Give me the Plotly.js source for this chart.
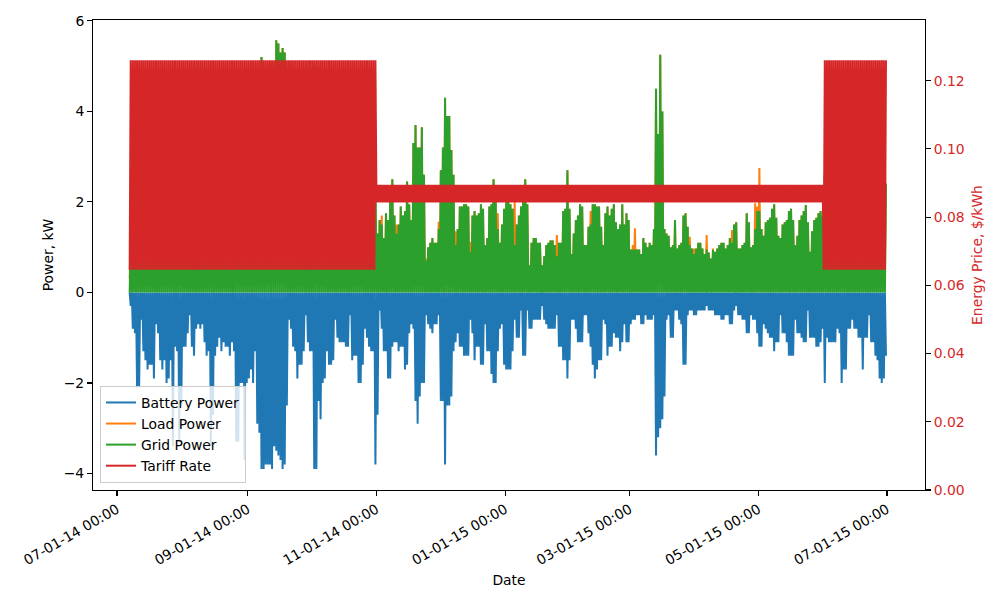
<!DOCTYPE html>
<html><head><meta charset="utf-8">
<script src="https://cdn.plot.ly/plotly-3.0.1.min.js"></script>
<style>html,body{margin:0;padding:0;background:#fff}#chart{width:1000px;height:600px}</style>
</head><body><div id="chart"></div>
<script>
// Daily values, one per day from 2014-07-07 to 2015-06-30
const firstDayOffset = 6; // days after 2014-07-01
const batteryMin = [
-0.3,-0.8,-0.9,-2.1,-2.1,-0.6,-1.3,-1.5,-1.7,-1.6,
-1.6,-1.9,-0.7,-0.9,-1.5,-1.7,-1.5,-2.0,-1.9,-1.5,
-3.4,-1.2,-1.3,-3.3,-2.5,-1.2,-1.2,-0.9,-0.5,-1.2,
-1.4,-0.8,-0.7,-0.8,-0.7,-1.1,-1.4,-1.3,-3.4,-2.7,
-1.4,-1.2,-1.0,-1.3,-1.1,-1.2,-1.2,-1.4,-1.1,-1.3,
-3.3,-3.3,-2.0,-2.0,-3.7,-2.0,-1.9,-1.7,-2.0,-1.3,
-2.9,-3.1,-3.9,-3.9,-3.8,-3.8,-3.8,-3.9,-3.4,-3.5,
-3.6,-3.7,-3.9,-3.8,-2.5,-0.6,-0.8,-1.2,-1.3,-1.9,
-1.6,-1.6,-1.3,-0.5,-1.1,-1.3,-1.3,-3.9,-3.9,-2.4,
-2.8,-2.0,-1.9,-1.3,-1.6,-1.6,-1.5,-0.6,-1.0,-1.1,
-1.1,-1.1,-1.2,-1.2,-0.5,-1.5,-1.4,-1.4,-2.0,-2.0,
-1.6,-0.8,-1.0,-1.2,-1.3,-1.3,-3.8,-2.7,-0.4,-0.8,
-1.3,-1.3,-1.9,-1.9,-1.2,-1.1,-1.1,-1.3,-1.2,-1.2,
-1.7,-1.6,-0.9,-0.7,-0.8,-2.4,-2.9,-2.3,-2.0,-2.0,
-0.5,-0.7,-0.8,-0.9,-0.7,-0.7,-0.5,-2.4,-2.4,-3.8,
-2.5,-2.5,-2.3,-1.3,-1.1,-0.9,-1.2,-1.2,-1.4,-1.4,
-1.4,-0.6,-0.9,-1.5,-1.2,-1.2,-1.6,-1.6,-0.7,-1.3,
-1.3,-1.8,-2.0,-2.0,-1.3,-0.8,-0.7,-1.6,-1.7,-1.7,
-1.7,-1.3,-0.6,-1.0,-1.0,-0.4,-1.4,-1.4,-0.4,-0.8,
-0.8,-0.6,-0.6,-0.6,-0.6,-0.3,-0.6,-0.7,-0.8,-0.8,
-0.8,-0.8,-0.5,-1.2,-1.2,-1.5,-1.5,-1.9,-1.5,-0.6,
-0.6,-0.8,-1.1,-1.1,-1.1,-0.5,-0.5,-0.9,-1.2,-1.6,
-1.9,-1.7,-1.5,-1.5,-0.6,-0.7,-1.4,-1.2,-1.2,-0.9,
-1.0,-1.0,-1.3,-1.1,-0.7,-1.1,-1.1,-0.7,-0.6,-0.6,
-0.5,-0.5,-0.7,-0.7,-0.5,-0.6,-0.6,-0.6,-0.5,-3.6,
-3.2,-3.0,-2.8,-2.3,-0.6,-0.5,-1.0,-1.0,-0.4,-0.4,
-0.6,-0.7,-1.6,-1.6,-0.5,-0.4,-0.4,-0.5,-0.5,-0.4,
-0.4,-0.4,-0.4,-0.3,-0.4,-0.4,-0.4,-0.5,-0.5,-0.5,
-0.6,-0.6,-0.5,-0.5,-0.7,-0.7,-0.4,-0.3,-0.5,-0.5,
-0.6,-0.6,-0.9,-0.9,-0.5,-0.6,-0.6,-0.9,-1.2,-1.2,
-0.7,-0.8,-0.9,-1.0,-1.0,-1.3,-1.1,-1.1,-0.5,-0.9,
-0.9,-1.1,-1.4,-1.4,-1.4,-0.6,-0.9,-0.9,-1.0,-1.1,
-1.1,-0.4,-1.0,-1.0,-1.0,-1.2,-1.2,-1.1,-0.8,-2.0,
-1.0,-1.1,-1.1,-1.1,-1.1,-0.8,-0.9,-2.0,-1.7,-1.7,
-0.8,-0.8,-0.6,-0.8,-0.8,-1.0,-1.0,-1.7,-1.0,-1.0,
-0.5,-1.1,-1.1,-1.4,-1.5,-1.9,-2.0,-1.9,-1.4
];
const gridMax = [
1.2,2.5,2.8,3.5,3.2,2.0,2.8,3.0,3.2,3.0,
3.1,3.4,2.2,2.4,3.0,3.2,3.0,3.6,3.5,3.0,
4.6,2.8,2.9,4.5,4.0,2.7,2.7,2.3,1.9,2.8,
3.0,2.2,2.1,2.2,2.1,2.6,2.9,2.8,4.6,4.1,
2.9,2.7,2.5,2.8,2.6,2.7,2.7,2.9,2.6,2.8,
4.5,4.5,3.5,3.5,4.8,3.5,3.4,3.2,3.5,2.8,
4.3,4.5,5.2,3.5,4.9,4.9,4.9,5.0,4.8,5.57,
5.5,5.3,5.4,5.3,3.9,2.0,2.2,2.7,2.8,3.4,
3.1,3.1,2.8,1.9,2.6,2.8,2.8,5.0,5.0,3.9,
4.2,3.5,3.4,2.8,3.1,3.1,3.0,2.0,2.5,2.6,
2.6,2.6,2.7,2.7,1.9,3.0,2.9,2.9,3.5,3.5,
3.1,2.3,2.5,2.7,2.8,2.0,2.5,1.3,1.6,1.5,
1.2,1.75,1.6,2.0,2.5,1.7,1.3,1.5,1.9,1.7,
1.8,2.45,1.95,1.6,3.3,3.7,3.2,3.2,3.65,2.6,
0.7,1.0,1.1,1.2,1.1,1.1,1.4,2.7,3.2,4.3,
3.9,3.9,3.15,2.6,1.05,1.4,1.9,1.9,1.95,1.95,
1.9,0.9,1.7,1.8,1.7,1.75,1.95,1.85,1.05,1.2,
1.9,1.95,2.5,2.0,1.4,1.1,1.5,1.85,2.0,2.0,
1.95,1.85,1.05,1.5,1.7,1.9,2.0,2.5,1.95,0.6,
1.1,1.2,1.2,1.1,1.1,0.6,0.8,1.05,1.1,1.15,
1.15,1.05,0.8,1.1,1.1,1.8,1.85,2.7,1.85,0.85,
1.3,1.6,1.7,1.95,1.9,1.05,1.05,1.45,1.5,1.95,
1.95,1.9,1.9,1.45,1.05,1.75,1.9,1.7,1.85,1.95,
1.55,1.4,1.5,1.95,1.5,1.75,1.6,0.95,0.95,0.95,
0.95,0.95,0.85,1.2,1.1,1.0,1.1,1.05,1.4,4.5,
3.5,5.25,4.0,1.4,1.3,1.25,1.0,1.05,1.6,0.97,
1.05,1.1,1.7,1.75,1.45,1.05,0.97,0.85,0.97,1.1,
1.1,0.97,0.85,0.95,0.88,0.75,0.94,0.9,0.97,1.05,
1.1,1.1,0.97,1.05,1.2,1.1,1.5,1.55,0.97,0.97,
1.05,1.1,1.75,1.55,1.0,1.05,1.4,1.8,1.8,1.4,
1.25,1.55,1.6,1.65,1.85,1.95,1.65,1.25,1.2,1.5,
1.55,1.6,1.8,1.85,1.6,1.05,1.25,1.6,1.7,1.8,
1.93,1.55,0.9,1.35,1.6,1.65,1.75,1.8,1.7,2.6,
2.1,2.2,2.2,2.2,2.2,1.8,1.9,3.1,2.8,2.8,
1.8,1.8,1.6,1.8,1.8,2.0,2.0,2.8,2.0,2.0,
1.5,2.1,2.1,2.4,2.5,2.9,3.0,2.9,2.4
];
const loadMax = [
1.2,2.5,2.8,3.5,3.2,2.0,2.8,3.0,3.2,3.0,
3.1,3.4,2.2,2.4,3.0,3.2,3.0,3.6,3.5,3.0,
4.6,2.8,2.9,4.5,4.0,2.7,2.7,2.3,1.9,2.8,
3.0,2.2,2.1,2.2,2.1,2.6,2.9,2.8,4.6,4.1,
2.9,2.7,2.5,2.8,2.6,2.7,2.7,2.9,2.6,2.8,
4.5,4.5,3.5,3.5,4.8,3.5,3.4,3.2,3.5,2.8,
4.3,4.5,5.2,3.5,4.9,4.9,4.9,5.0,4.8,5.57,
5.5,5.3,5.4,5.3,3.9,2.0,2.2,2.7,2.8,3.4,
3.1,3.1,2.8,1.9,2.6,2.8,2.8,5.0,5.0,3.9,
4.2,3.5,3.4,2.8,3.1,3.1,3.0,2.0,2.5,2.6,
2.6,2.6,2.7,2.7,1.9,3.0,2.9,2.9,3.5,3.5,
3.1,2.3,2.5,2.7,2.8,2.0,2.5,1.3,1.6,1.7,
1.2,1.75,1.6,2.0,2.5,1.7,1.5,1.5,1.9,1.7,
1.8,2.45,1.95,1.6,3.3,3.7,3.2,3.2,3.65,2.6,
0.75,1.0,1.1,1.2,1.1,1.1,1.56,2.7,3.2,4.3,
3.9,3.9,3.15,2.6,1.35,1.4,1.9,1.9,1.95,1.95,
1.9,1.12,1.7,1.8,1.7,1.75,1.95,1.85,1.05,1.2,
1.9,1.95,2.5,2.0,1.75,1.1,1.5,1.85,2.0,2.0,
1.95,1.85,2.0,1.5,1.7,1.9,2.0,2.5,1.95,0.6,
1.1,1.2,1.2,1.1,1.1,0.6,0.8,1.05,1.1,1.15,
1.15,1.05,1.27,1.1,1.1,1.8,1.85,2.7,1.85,0.85,
1.3,1.6,1.7,1.95,1.9,1.05,1.05,1.45,1.8,1.95,
1.95,1.9,1.9,1.45,1.05,1.75,1.9,1.7,1.85,1.95,
1.55,1.4,1.5,1.95,1.5,1.75,1.6,0.95,1.05,1.42,
0.95,0.95,0.85,1.2,1.1,1.0,1.1,1.05,1.4,4.5,
3.5,5.25,4.0,1.4,1.3,1.25,1.0,1.05,1.6,0.97,
1.05,1.1,1.7,1.75,1.45,1.23,0.97,0.97,0.97,1.1,
1.1,0.97,0.85,1.27,0.88,0.75,0.97,0.9,0.97,1.05,
1.1,1.1,0.97,1.05,1.2,1.38,1.5,1.55,0.97,0.97,
1.05,1.1,1.75,1.55,1.0,1.05,1.97,1.9,2.75,1.4,
1.25,1.55,1.6,1.65,1.85,1.95,1.65,1.25,1.2,1.5,
1.55,1.6,1.8,1.85,1.6,1.05,1.25,1.6,1.7,1.8,
1.93,1.55,0.9,1.35,1.6,1.65,1.75,1.8,1.7,2.6,
2.1,2.2,2.2,2.2,2.2,1.8,1.9,3.1,2.8,2.8,
1.8,1.8,1.6,1.8,1.8,2.0,2.0,2.8,2.0,2.0,
1.5,2.1,2.1,2.4,2.5,2.9,3.0,2.9,2.4
];
// overnight levels each series returns to (hidden under the others in the picture)
const batteryIdle = 0.0;
const gridIdle = 0.0;
const loadIdle = 0.3;

// Tariff seasons (day offsets after 2014-07-01) and their rates, $/kWh
const seasonFirstDay = [6, 123, 335];
const seasonLastDay = [122, 334, 364];
const peakRate = [0.126, 0.0895, 0.126];
const offPeakRate = [0.0646, 0.0843, 0.0646];

const seriesNames = ['Battery Power', 'Load Power', 'Grid Power', 'Tariff Rate'];
const seriesColors = ['#1f77b4', '#ff7f0e', '#2ca02c', '#d62728'];

function stamp(dayOffset, hour) {
  const t = new Date(Date.UTC(2014, 6, 1) + (dayOffset * 24 + hour) * 3600e3);
  return t.toISOString().slice(0, 16).replace('T', ' ');
}
function dailySwing(values, idle) {
  const x = [], y = [];
  values.forEach((v, i) => {
    const d = firstDayOffset + i;
    x.push(stamp(d, 0)); y.push(idle);
    x.push(stamp(d, 12)); y.push(v);
  });
  return {x, y};
}
const tx = [], ty = [];
seasonFirstDay.forEach((s, k) => {
  for (let d = s; d <= seasonLastDay[k]; d++) {
    tx.push(stamp(d, 0)); ty.push(offPeakRate[k]);
    tx.push(stamp(d, 12)); ty.push(peakRate[k]);
  }
});

const b = dailySwing(batteryMin, batteryIdle), l = dailySwing(loadMax, loadIdle), g = dailySwing(gridMax, gridIdle);
const lw = 2;
const traces = [
  {x: b.x, y: b.y, type: 'scatter', mode: 'lines', name: seriesNames[0], line: {color: seriesColors[0], width: lw}},
  {x: l.x, y: l.y, type: 'scatter', mode: 'lines', name: seriesNames[1], line: {color: seriesColors[1], width: lw}},
  {x: g.x, y: g.y, type: 'scatter', mode: 'lines', name: seriesNames[2], line: {color: seriesColors[2], width: lw}},
  {x: tx, y: ty, type: 'scatter', mode: 'lines', name: seriesNames[3], yaxis: 'y2', line: {color: seriesColors[3], width: lw}}
];

const F = 'DejaVu Sans, sans-serif';
const fs = 13.9;
const layout = {
  width: 1000, height: 600,
  margin: {l: 93, r: 75, t: 20, b: 110},
  paper_bgcolor: '#fff', plot_bgcolor: '#fff',
  font: {family: F, size: fs, color: '#000'},
  showlegend: true,
  legend: {x: 0.0084, y: 0.015, xanchor: 'left', yanchor: 'bottom',
    bgcolor: 'rgba(255,255,255,0.8)', bordercolor: '#cccccc', borderwidth: 1,
    font: {family: F, size: fs, color: '#000'}, itemwidth: 30, tracegroupgap: 0},
  xaxis: {
    type: 'date', range: ['2014-06-19 15:00', '2015-07-19 00:00'],
    tick0: '2014-07-01', dtick: 'M2', tickformat: '%m-%d-%y %H:%M', tickangle: -30,
    showgrid: false, zeroline: false, showline: true, mirror: true, linecolor: '#000', linewidth: 1.1,
    ticks: 'outside', ticklen: 4.9, tickwidth: 1.1, tickcolor: '#000',
    tickfont: {family: F, size: fs, color: '#000'},
    title: {text: 'Date', font: {family: F, size: fs, color: '#000'}, standoff: 8}
  },
  yaxis: {
    range: [-4.365, 6.02], tickvals: [-4, -2, 0, 2, 4, 6],
    showgrid: false, zeroline: false, showline: true, linecolor: '#000', linewidth: 1.1,
    ticks: 'outside', ticklen: 4.9, tickwidth: 1.1, tickcolor: '#000',
    tickfont: {family: F, size: fs, color: '#000'},
    title: {text: 'Power, kW', font: {family: F, size: fs, color: '#000'}, standoff: 6}
  },
  yaxis2: {
    overlaying: 'y', side: 'right', range: [0, 0.1378],
    tickvals: [0, 0.02, 0.04, 0.06, 0.08, 0.10, 0.12], tickformat: '.2f',
    showgrid: false, zeroline: false, showline: true, linecolor: '#000', linewidth: 1.1,
    ticks: 'outside', ticklen: 4.9, tickwidth: 1.1, tickcolor: '#000',
    tickfont: {family: F, size: fs, color: '#d62728'},
    title: {text: 'Energy Price, $/kWh', font: {family: F, size: fs, color: '#d62728'}, standoff: 8}
  }
};
Plotly.newPlot('chart', traces, layout, {displayModeBar: false, staticPlot: true});
</script>
</body></html>
